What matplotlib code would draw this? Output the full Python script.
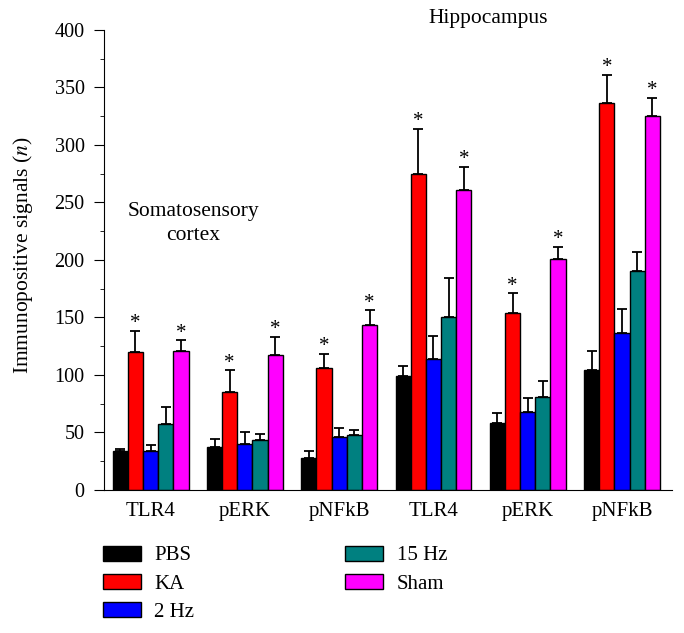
import numpy as np
import matplotlib
matplotlib.use("Agg")
import matplotlib.pyplot as plt
from matplotlib.ticker import MultipleLocator

plt.rcParams['font.family'] = ['Liberation Serif', 'DejaVu Serif']
plt.rcParams['mathtext.fontset'] = 'stix'

categories = ['TLR4', 'pERK', 'pNFkB', 'TLR4', 'pERK', 'pNFkB']
groups = ['PBS', 'KA', '2 Hz', '15 Hz', 'Sham']
colors = ['#000000', '#ff0000', '#0000ff', '#008080', '#ff00ff']

pbs = [34, 37, 28, 99, 58, 104]
ka = [120, 85, 106, 275, 154, 336]
hz2 = [34, 40, 46, 114, 68, 136]
hz15 = [57, 43, 48, 150, 81, 190]
sham = [121, 117, 143, 261, 201, 325]

pbs_err = [2, 7, 6, 9, 9, 17]
ka_err = [18, 19, 12, 39, 17, 25]
hz2_err = [5, 10, 8, 20, 12, 21]
hz15_err = [15, 6, 4, 34, 14, 17]
sham_err = [9, 16, 13, 20, 10, 16]

# significance marks (KA and Sham in every group)
star_ka = [True] * 6
star_sham = [True] * 6

values = [pbs, ka, hz2, hz15, sham]
errors = [pbs_err, ka_err, hz2_err, hz15_err, sham_err]
stars = [None, star_ka, None, None, star_sham]

fig = plt.figure(figsize=(6.84, 6.33), dpi=100)
ax = fig.add_axes([0.152, 0.226, 0.83, 0.727])

x = np.arange(len(categories))
w = 0.161
for i, (vals, errs, col, name) in enumerate(zip(values, errors, colors, groups)):
    pos = x + (i - 2) * w
    ax.bar(pos, vals, width=w, color=col, edgecolor='black', linewidth=1.0,
           label=name, zorder=2)
    ax.errorbar(pos, vals, yerr=[np.zeros(len(vals)), errs], fmt='none',
                ecolor='black', elinewidth=1.3, capsize=3.3, capthick=1.3, zorder=1)
    if stars[i] is not None:
        for p, v, e, s in zip(pos, vals, errs, stars[i]):
            if s:
                ax.text(p, v + e - 2, '*', ha='center', va='bottom', fontsize=15)

ax.set_xlim(-0.495, 5.527)
ax.set_ylim(0, 400)
ax.spines['top'].set_visible(False)
ax.spines['right'].set_visible(False)
ax.set_xticks(x)
ax.set_xticklabels(categories, fontsize=15)
ax.tick_params(axis='x', length=0, pad=9)
ax.yaxis.set_major_locator(MultipleLocator(50))
ax.yaxis.set_minor_locator(MultipleLocator(25))
ax.tick_params(axis='y', which='major', direction='out', length=7, pad=7,
               labelsize=14.5)
ax.tick_params(axis='y', which='minor', direction='out', length=3)
ax.set_ylabel('Immunopositive signals ($n$)', fontsize=15.5)
ax.yaxis.set_label_coords(-0.1215, 0.511)

ax.text(0.45, 250, 'Somatosensory\ncortex', ha='center', va='top', fontsize=15.5,
        linespacing=1.3)
fig.text(0.713, 0.970, 'Hippocampus', ha='center', va='center', fontsize=15.5)

fig.legend(loc='upper left', bbox_to_anchor=(0.150, 0.138), ncol=2, frameon=False,
           fontsize=15, handlelength=1.83, handleheight=0.72, handletextpad=0.64,
           columnspacing=7.26, labelspacing=0.41, borderpad=0, borderaxespad=0)

fig.savefig('out.png', dpi=100)
